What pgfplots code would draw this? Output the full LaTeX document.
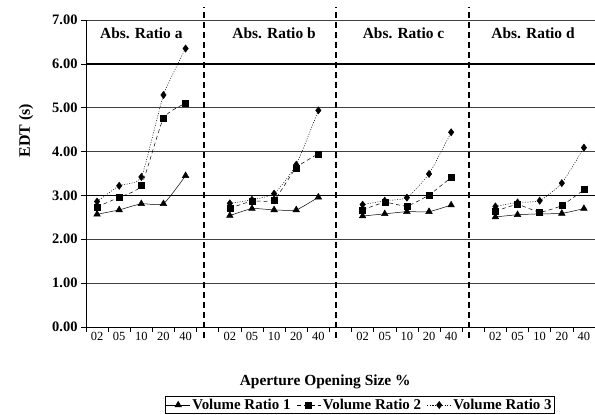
\documentclass[border=0pt]{standalone}
\usepackage{fontspec}
\setmainfont{Liberation Serif}
\usepackage{pgfplots}
\pgfplotsset{compat=1.18}

\begin{document}
\begin{tikzpicture}
\useasboundingbox (-86bp,-88bp) rectangle (509bp,327bp);
\begin{axis}[
    scale only axis,
    width=509bp, height=307bp,
    xmin=0.5, xmax=23.5,
    ymin=0, ymax=7,
    clip=false,
    axis lines*=left,
    axis line style={-, line width=0.6pt},
    tick align=outside,
    xtick={0.5,1.5,...,23.5},
    xticklabels={},
    major tick length=5bp,
    tick style={black, line width=0.6pt},
    extra x ticks={1,2,3,4,5,7,8,9,10,11,13,14,15,16,17,19,20,21,22,23},
    extra x tick labels={02,05,10,20,40,02,05,10,20,40,02,05,10,20,40,02,05,10,20,40},
    extra x tick style={major tick length=0pt, tick label style={font=\fontsize{12.5}{14}\selectfont, yshift=-2bp}},
    ytick={0,1,...,7},
    yticklabel style={font=\fontsize{14.5}{16}\selectfont\bfseries, /pgf/number format/.cd, fixed, fixed zerofill, precision=2, assume math mode=true},
    ymajorgrids,
    y grid style={black!75, line width=0.5pt},
    xlabel={\bfseries Aperture Opening Size \%},
    xlabel style={at={(axis description cs:0.47,-0.179)}, anchor=center, font=\fontsize{15.5}{17}\selectfont},
    ylabel={\bfseries EDT (s)},
    ylabel style={at={(axis description cs:-0.118,0.64)}, anchor=center, rotate=0, font=\fontsize{16}{18}\selectfont},
    legend style={at={(0.538,-0.226)}, anchor=north, legend columns=3, draw=black, line width=0.5pt,
        font=\fontsize{15}{17}\selectfont\bfseries, inner sep=0.5pt,
        /tikz/every even column/.append style={column sep=4bp}},
    legend image code/.code={\draw[mark repeat=2, mark phase=2] plot coordinates {(0cm,0cm) (0.42cm,0cm) (0.84cm,0cm)};},
    legend image post style={line width=0.5pt},
]
% bold grid lines at 3 and 6
\draw[black, line width=1.3pt] (axis cs:0.5,3) -- (axis cs:23.5,3);
\draw[black, line width=1.3pt] (axis cs:0.5,6) -- (axis cs:23.5,6);

% panel a (legend entries)
\addplot[black, line width=0.5pt, smooth, tension=0.3, mark=triangle*, mark size=3.8pt, mark options={solid}]
    coordinates {(1,2.57) (2,2.67) (3,2.81) (4,2.81) (5,3.45)};
\addlegendentry{Volume Ratio 1}
\addplot[black, line width=0.5pt, dash pattern=on 4pt off 3pt, smooth, tension=0.3, mark=square*, mark size=3pt, mark options={solid}]
    coordinates {(1,2.74) (2,2.96) (3,3.23) (4,4.76) (5,5.10)};
\addlegendentry{Volume Ratio 2}
\addplot[black, line width=0.5pt, dash pattern=on 1pt off 1.5pt, smooth, tension=0.3, mark=diamond*, mark size=3.6pt, mark options={solid}]
    coordinates {(1,2.86) (2,3.22) (3,3.42) (4,5.29) (5,6.35)};
\addlegendentry{Volume Ratio 3}

% panel b
\addplot[forget plot, black, line width=0.5pt, smooth, tension=0.3, mark=triangle*, mark size=3.8pt, mark options={solid}]
    coordinates {(7,2.54) (8,2.70) (9,2.67) (10,2.67) (11,2.96)};
\addplot[forget plot, black, line width=0.5pt, dash pattern=on 4pt off 3pt, smooth, tension=0.3, mark=square*, mark size=3pt, mark options={solid}]
    coordinates {(7,2.71) (8,2.87) (9,2.90) (10,3.63) (11,3.95)};
\addplot[forget plot, black, line width=0.5pt, dash pattern=on 1pt off 1.5pt, smooth, tension=0.3, mark=diamond*, mark size=3.6pt, mark options={solid}]
    coordinates {(7,2.82) (8,2.90) (9,3.04) (10,3.70) (11,4.94)};

% panel c
\addplot[forget plot, black, line width=0.5pt, smooth, tension=0.3, mark=triangle*, mark size=3.8pt, mark options={solid}]
    coordinates {(13,2.53) (14,2.58) (15,2.63) (16,2.63) (17,2.78)};
\addplot[forget plot, black, line width=0.5pt, dash pattern=on 4pt off 3pt, smooth, tension=0.3, mark=square*, mark size=3pt, mark options={solid}]
    coordinates {(13,2.67) (14,2.84) (15,2.76) (16,3.01) (17,3.41)};
\addplot[forget plot, black, line width=0.5pt, dash pattern=on 1pt off 1.5pt, smooth, tension=0.3, mark=diamond*, mark size=3.6pt, mark options={solid}]
    coordinates {(13,2.79) (14,2.88) (15,2.95) (16,3.49) (17,4.44)};

% panel d
\addplot[forget plot, black, line width=0.5pt, smooth, tension=0.3, mark=triangle*, mark size=3.8pt, mark options={solid}]
    coordinates {(19,2.51) (20,2.56) (21,2.58) (22,2.59) (23,2.70)};
\addplot[forget plot, black, line width=0.5pt, dash pattern=on 4pt off 3pt, smooth, tension=0.3, mark=square*, mark size=3pt, mark options={solid}]
    coordinates {(19,2.64) (20,2.79) (21,2.62) (22,2.77) (23,3.13)};
\addplot[forget plot, black, line width=0.5pt, dash pattern=on 1pt off 1.5pt, smooth, tension=0.3, mark=diamond*, mark size=3.6pt, mark options={solid}]
    coordinates {(19,2.75) (20,2.84) (21,2.88) (22,3.28) (23,4.09)};

% panel separators
\foreach \xs in {5.83,11.8,17.8} {
    \edef\temp{\noexpand\draw[black, line width=1.4pt, dash pattern=on 6bp off 4bp] (axis cs:\xs,-0.24) -- (axis cs:\xs,7.3);}
    \temp
}

% panel titles
\node[font=\fontsize{15.5}{17}\selectfont\bfseries] at (axis cs:3,6.69) {Abs. Ratio a};
\node[font=\fontsize{15.5}{17}\selectfont\bfseries] at (axis cs:9,6.69) {Abs. Ratio b};
\node[font=\fontsize{15.5}{17}\selectfont\bfseries] at (axis cs:14.85,6.69) {Abs. Ratio c};
\node[font=\fontsize{15.5}{17}\selectfont\bfseries] at (axis cs:20.7,6.69) {Abs. Ratio d};
\end{axis}
\end{tikzpicture}
\end{document}
